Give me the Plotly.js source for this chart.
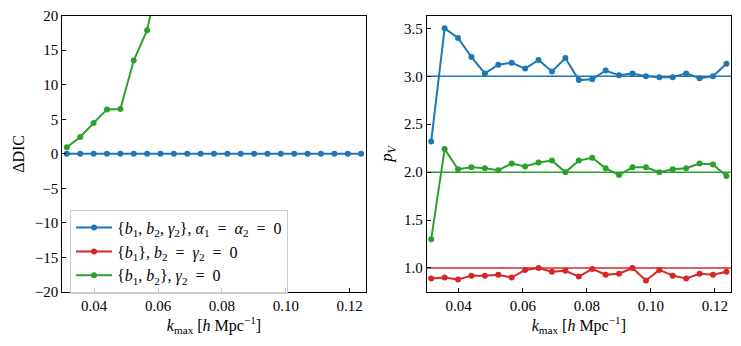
<!DOCTYPE html>
<html>
<head>
<meta charset="utf-8">
<script src="https://cdn.plot.ly/plotly-3.0.1.min.js"></script>
<style>html,body{margin:0;padding:0;background:#fff;}#chart{width:741px;height:346px;}</style>
</head>
<body>
<div id="chart"></div>
<script>
// k_max values [h/Mpc]
const kmax = [0.031416, 0.035605, 0.039794, 0.043982, 0.048171, 0.052360, 0.056549, 0.060737,
  0.064926, 0.069115, 0.073304, 0.077493, 0.081681, 0.085870, 0.090059, 0.094248,
  0.098437, 0.102625, 0.106814, 0.111003, 0.115192, 0.119381, 0.123569];

// Left panel: Delta DIC
const dicBlue  = [0,0,0,0,0,0,0,0,0,0,0,0,0,0,0,0,0,0,0,0,0,0,0];
const dicGreen = [0.95, 2.45, 4.47, 6.44, 6.49, 13.5, 17.9, 28, 36, 45, 52, 60, 68, 77, 85, 94, 102, 111, 120, 128, 137, 146, 155];
// red curve lies entirely above the plotted range
const dicRed   = [60, 68, 76, 85, 94, 103, 112, 121, 130, 140, 150, 160, 170, 180, 190, 200, 210, 220, 230, 240, 250, 260, 270];

// Right panel: p_V
const pvBlue  = [2.32, 3.50, 3.40, 3.20, 3.03, 3.12, 3.14, 3.08, 3.17, 3.05, 3.19, 2.96, 2.97, 3.06, 3.01, 3.03, 3.00, 2.99, 2.99, 3.03, 2.98, 3.00, 3.13];
const pvRed   = [0.89, 0.90, 0.88, 0.92, 0.92, 0.93, 0.90, 0.98, 1.00, 0.96, 0.97, 0.91, 0.99, 0.93, 0.94, 1.00, 0.87, 0.98, 0.92, 0.89, 0.94, 0.93, 0.96];
const pvGreen = [1.30, 2.24, 2.03, 2.05, 2.04, 2.02, 2.09, 2.06, 2.10, 2.12, 2.00, 2.12, 2.15, 2.04, 1.97, 2.05, 2.05, 2.00, 2.03, 2.04, 2.09, 2.08, 1.96];
// expected number of parameters (reference lines)
const pvTrue = {blue: 3, red: 1, green: 2};

const EQ = '\u2002=\u2002';
const names = [
  '{<i>b</i><sub>1</sub>, <i>b</i><sub>2</sub>, <i>γ</i><sub>2</sub>}, <i>α</i><sub>1</sub>' + EQ + '<i>α</i><sub>2</sub>' + EQ + '0',
  '{<i>b</i><sub>1</sub>}, <i>b</i><sub>2</sub>' + EQ + '<i>γ</i><sub>2</sub>' + EQ + '0',
  '{<i>b</i><sub>1</sub>, <i>b</i><sub>2</sub>}, <i>γ</i><sub>2</sub>' + EQ + '0'
];
const colors = {blue: '#1f77b4', red: '#d62728', green: '#2ca02c'};

function tr(y, color, name, xa, ya, show) {
  return {x: kmax, y: y, type: 'scatter', mode: 'lines+markers', name: name,
    showlegend: show, xaxis: xa, yaxis: ya, cliponaxis: true,
    line: {color: color, width: 2}, marker: {color: color, size: 6}};
}

const data = [
  tr(dicBlue, colors.blue, names[0], 'x', 'y', true),
  tr(dicRed, colors.red, names[1], 'x', 'y', true),
  tr(dicGreen, colors.green, names[2], 'x', 'y', true),
  tr(pvBlue, colors.blue, names[0], 'x2', 'y2', false),
  tr(pvRed, colors.red, names[1], 'x2', 'y2', false),
  tr(pvGreen, colors.green, names[2], 'x2', 'y2', false)
];

const family = 'Liberation Serif, DejaVu Serif, serif';
const font = {family: family, size: 15, color: '#000'};
const axBase = {
  showgrid: false, zeroline: false, showline: true, mirror: true,
  linecolor: '#000', linewidth: 1, ticks: 'inside', ticklen: 4, tickwidth: 1,
  tickcolor: '#000', tickfont: font
};
const xTitle = {text: '<i>k</i><sub>max</sub> [<i>h</i> Mpc<sup>−1</sup>]', font: {family: family, size: 16, color: '#000'}, standoff: 4};

const shapes = ['blue', 'red', 'green'].map(c => ({
  type: 'line', xref: 'x2 domain', x0: 0, x1: 1, yref: 'y2', y0: pvTrue[c], y1: pvTrue[c],
  line: {color: colors[c], width: 1.5}, layer: 'below'
}));

const layout = {
  width: 741, height: 346,
  margin: {l: 0, r: 0, t: 0, b: 0},
  paper_bgcolor: '#fff', plot_bgcolor: '#fff',
  font: font,
  showlegend: true,
  legend: {x: 0.0945, y: 0.394, xanchor: 'left', yanchor: 'top',
    bgcolor: 'rgba(255,255,255,0.8)', bordercolor: '#cccccc', borderwidth: 1,
    font: {family: family, size: 16, color: '#000'}, tracegroupgap: 0, itemwidth: 36},
  xaxis: Object.assign({}, axBase, {domain: [0.0841, 0.4935], range: [0.03, 0.125],
    tickvals: [0.04, 0.06, 0.08, 0.10, 0.12], tickformat: '.2f', title: xTitle, anchor: 'y'}),
  yaxis: Object.assign({}, axBase, {domain: [0.156, 0.9546], range: [-20, 20],
    tickvals: [-20, -15, -10, -5, 0, 5, 10, 15, 20], anchor: 'x',
    title: {text: 'ΔDIC', font: {family: family, size: 16, color: '#000'}, standoff: 6}}),
  xaxis2: Object.assign({}, axBase, {domain: [0.5758, 0.9865], range: [0.03, 0.125],
    tickvals: [0.04, 0.06, 0.08, 0.10, 0.12], tickformat: '.2f', title: xTitle, anchor: 'y2'}),
  yaxis2: Object.assign({}, axBase, {domain: [0.156, 0.9546], range: [0.749, 3.632],
    tickvals: [1.0, 1.5, 2.0, 2.5, 3.0, 3.5], tickformat: '.1f', anchor: 'x2',
    title: {text: '<i>p</i><sub><i>V</i></sub>', font: {family: family, size: 17, color: '#000'}, standoff: 6}}),
  shapes: shapes
};

Plotly.newPlot('chart', data, layout, {displayModeBar: false});
</script>
</body>
</html>
